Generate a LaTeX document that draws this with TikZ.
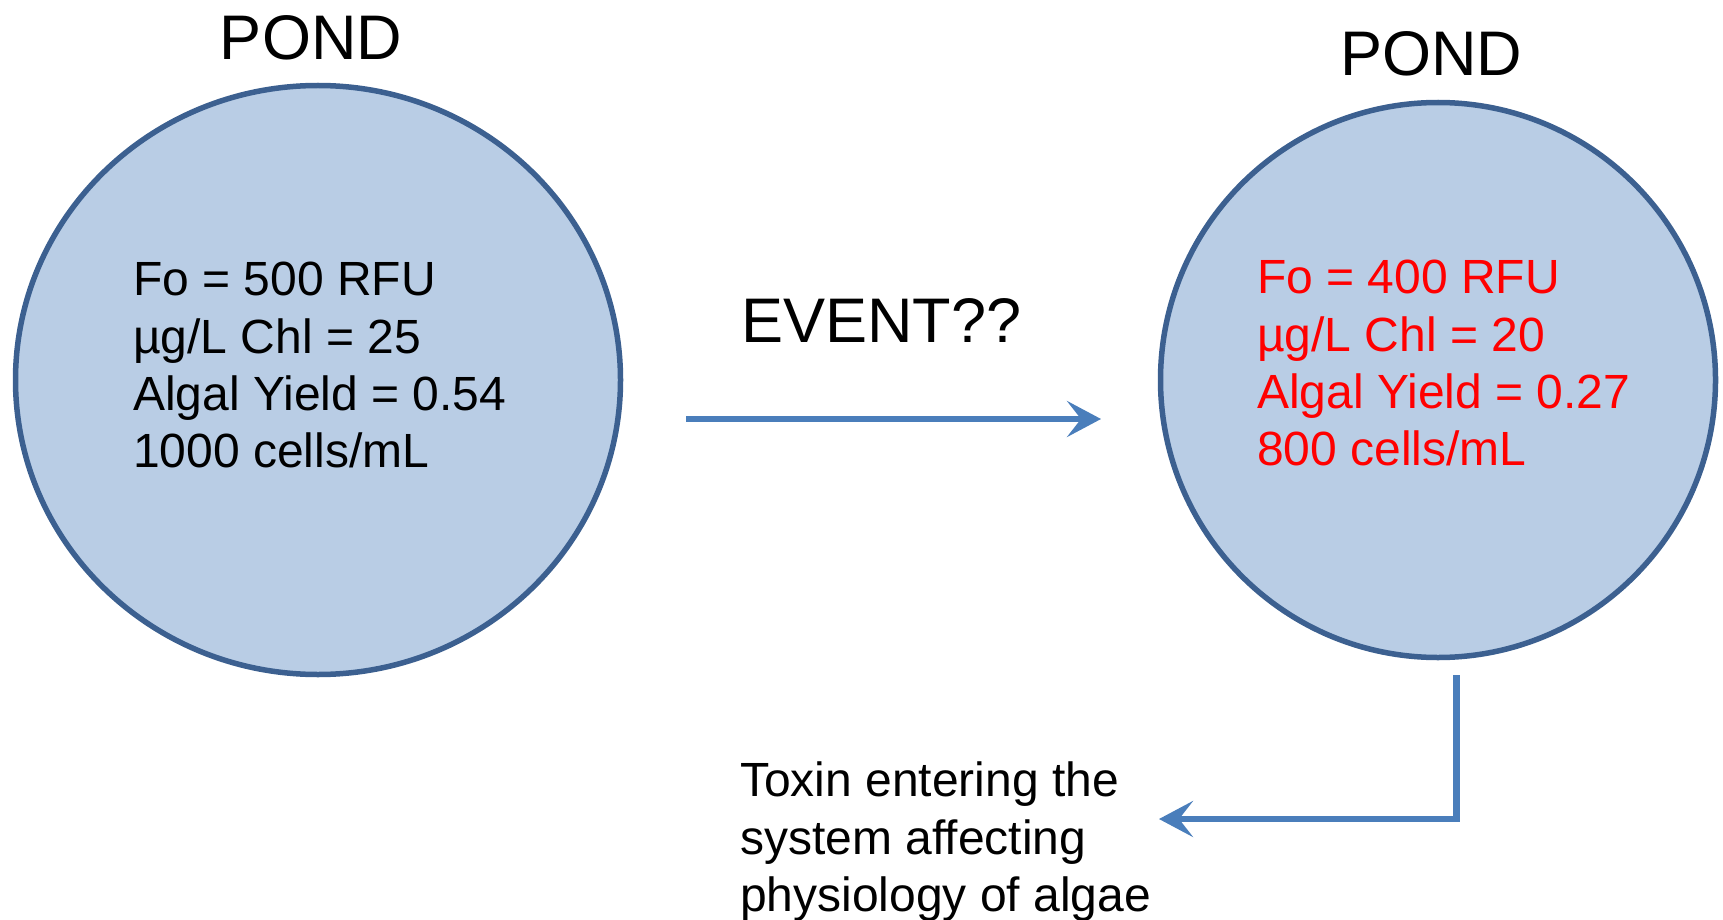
\documentclass[tikz,border=0pt]{standalone}
\usepackage{fontspec}
\setmainfont{Liberation Sans}
\usetikzlibrary{shapes.geometric,arrows.meta}
\definecolor{pondfill}{HTML}{B9CDE5}
\definecolor{pondline}{HTML}{3C6090}
\definecolor{arrowblue}{HTML}{4A7EBB}
\definecolor{alertred}{HTML}{FF0000}
\begin{document}
\begin{tikzpicture}[x=1pt,y=-1pt,
  pond/.style={ellipse, draw=pondline, line width=5.5pt, fill=pondfill, inner sep=0pt},
  title/.style={font=\fontsize{63}{75}\selectfont, inner sep=0pt},
  body/.style={font=\fontsize{48}{57.3}\selectfont, align=left, inner sep=0pt, anchor=north west},
  flow/.style={draw=arrowblue, line width=6.5pt, -{Stealth[length=34pt,width=36pt,inset=14pt]}}
]
\useasboundingbox (0,0) rectangle (1723,920);
\node[pond, minimum width=605pt, minimum height=589pt] (p1) at (318,380) {};
\node[pond, minimum width=555pt, minimum height=555pt] (p2) at (1438,380) {};
\node[title, anchor=base] (pond1) at (311,60) {POND};
\node[title, anchor=base] (pond2) at (1431,76) {POND};
\node[title, anchor=base west] (event) at (741,342) {EVENT??};
\node[body] (stats1) at (133,262) {Fo = 500 RFU\\µg/L Chl = 25\\Algal Yield = 0.54\\1000 cells/mL};
\node[body, text=alertred] (stats2) at (1257,260) {Fo = 400 RFU\\µg/L Chl = 20\\Algal Yield = 0.27\\800 cells/mL};
\node[body] (toxin) at (740,762) {Toxin entering the\\system affecting\\physiology of algae};
\coordinate (e1) at (686,419);
\coordinate (e2) at (1101,419);
\coordinate (t1) at (1456.5,675);
\coordinate (t2) at (1159,819);
\draw[flow] (e1) -- (e2);
\draw[flow] (t1) |- (t2);
\end{tikzpicture}
\end{document}
